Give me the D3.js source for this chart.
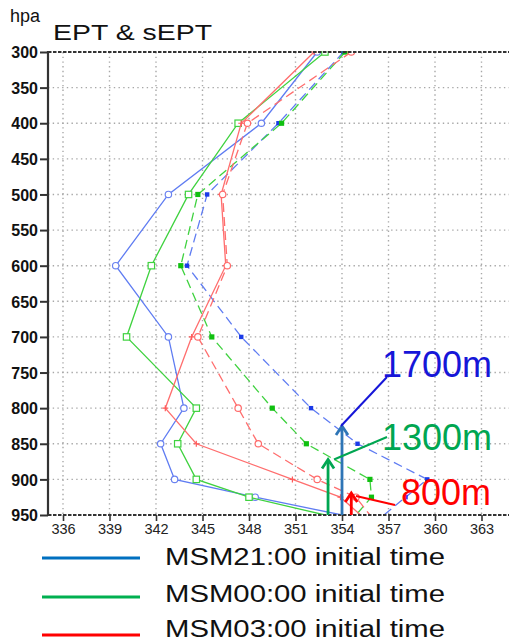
<!DOCTYPE html>
<html><head><meta charset="utf-8">
<script src="https://cdn.jsdelivr.net/npm/d3@7"></script>
<style>html,body{margin:0;padding:0;background:#fff;}svg{display:block;}</style>
</head><body>
<svg id="c" width="509" height="644"></svg>
<script>
// ---- data ----
const levels = [300, 400, 500, 600, 700, 800, 850, 900, 925, 950];
const ept21  = [352.4, 348.8, 342.8, 339.4, 342.8, 343.8, 342.3, 343.2, 348.4, 354.0];
const sept21 = [354.1, 349.9, 345.3, 344.0, 347.5, 352.0, 355.0, 359.5, 358.1, 356.7];
const ept00  = [352.9, 347.3, 344.1, 341.7, 340.1, 344.6, 343.4, 344.6, 348.0, 352.9];
const sept00 = [354.2, 350.1, 344.7, 343.6, 345.6, 349.5, 351.7, 355.8, 355.9, 354.9];
const ept03  = [352.2, 347.5, 346.2, 346.5, 344.3, 342.6, 344.6, 350.8, 353.9, 355.2];
const sept03 = [354.6, 347.9, 346.3, 346.6, 344.7, 347.3, 348.6, 352.4, 354.9, 355.8];
const xTicks = [336, 339, 342, 345, 348, 351, 354, 357, 360, 363];
const yTicks = [300, 350, 400, 450, 500, 550, 600, 650, 700, 750, 800, 850, 900, 950];
const legendLabels = ["MSM21:00 initial time", "MSM00:00 initial time", "MSM03:00 initial time"];
const heightLabels = ["1700m", "1300m", "800m"];
const arrowX   = [354.0, 353.1, 354.6];   // EPT value of arrow
const arrowTop = [825, 872, 919];         // hPa of arrow tip

// ---- layout ----
const svg = d3.select("#c");
const x = d3.scaleLinear().domain([335, 365]).range([47.5, 512.5]);
const y = d3.scaleLinear().domain([300, 950]).range([52, 515]);
const L = 48, R = 509, T = 52, B = 515;

svg.append("defs").append("clipPath").attr("id","pc")
  .append("rect").attr("x",L).attr("y",T-1).attr("width",R-L).attr("height",B-T+1);

// grid
const g = svg.append("g");
g.selectAll(".vg").data(xTicks).join("line")
  .attr("x1",d=>x(d)).attr("x2",d=>x(d)).attr("y1",T).attr("y2",B)
  .attr("stroke","#a8a8a8").attr("stroke-width",1.4).attr("stroke-dasharray","1.4,3.3");
g.selectAll(".hg").data(yTicks.slice(1,-1)).join("line")
  .attr("x1",L).attr("x2",R).attr("y1",d=>y(d)).attr("y2",d=>y(d))
  .attr("stroke","#a8a8a8").attr("stroke-width",1.4).attr("stroke-dasharray","1.4,3.3");

// series
const series = [
  {v: ept21,  c:"#5f7cf2", dash:null, m:"ocircle"},
  {v: sept21, c:"#5f7cf2", dash:"9,5", m:"fblue"},
  {v: ept00,  c:"#3fd23f", dash:null, m:"osquare"},
  {v: sept00, c:"#3fd23f", dash:"9,5", m:"fsquare"},
  {v: ept03,  c:"#ff6e6e", dash:null, m:"plus"},
  {v: sept03, c:"#ff6e6e", dash:"9,5", m:"ocircleR"}
];
const line = d3.line().x(d=>x(d[0])).y(d=>y(d[1]));
const pg = svg.append("g").attr("clip-path","url(#pc)");
series.forEach(s=>{
  const pts = s.v.map((v,i)=>[v, levels[i]]);
  pg.append("path").attr("d", line(pts)).attr("fill","none")
    .attr("stroke", s.c).attr("stroke-width",1.3)
    .attr("stroke-dasharray", s.dash);
  const mp = pts.slice(0, -1);
  mp.forEach(p=>{
    const cx = x(p[0]), cy = y(p[1]);
    if (s.m==="ocircle") pg.append("circle").attr("cx",cx).attr("cy",cy).attr("r",3.2)
        .attr("fill","#fff").attr("stroke","#6a82f0").attr("stroke-width",1.2);
    else if (s.m==="ocircleR") pg.append("circle").attr("cx",cx).attr("cy",cy).attr("r",3.2)
        .attr("fill","#fff").attr("stroke","#ff6a6a").attr("stroke-width",1.2);
    else if (s.m==="fblue") pg.append("rect").attr("x",cx-2.2).attr("y",cy-2.2).attr("width",4.4).attr("height",4.4)
        .attr("fill","#1a3ae8");
    else if (s.m==="osquare") pg.append("rect").attr("x",cx-3.2).attr("y",cy-3.2).attr("width",6.4).attr("height",6.4)
        .attr("fill","#fff").attr("stroke","#3fd23f").attr("stroke-width",1.2);
    else if (s.m==="fsquare") pg.append("rect").attr("x",cx-2.6).attr("y",cy-2.6).attr("width",5.2).attr("height",5.2)
        .attr("fill","#10c010");
    else if (s.m==="plus") {
      pg.append("path").attr("d",`M${cx-3},${cy}H${cx+3}M${cx},${cy-3}V${cy+3}`)
        .attr("stroke","#ff5a5a").attr("stroke-width",1.2);
    }
  });
});

// axes frame
svg.append("line").attr("x1",L).attr("x2",R).attr("y1",T).attr("y2",T)
  .attr("stroke","#333").attr("stroke-width",2.2).attr("stroke-dasharray","3.5,1.5");
svg.append("line").attr("x1",L).attr("x2",R).attr("y1",B).attr("y2",B)
  .attr("stroke","#333").attr("stroke-width",2.2).attr("stroke-dasharray","3.5,1.5");
svg.append("line").attr("x1",L).attr("x2",L).attr("y1",T-1).attr("y2",B+1)
  .attr("stroke","#333").attr("stroke-width",2.2);

// y axis
const ya = svg.append("g").attr("transform",`translate(${L},0)`)
  .call(d3.axisLeft(y).tickValues(yTicks).tickSize(8).tickPadding(2).tickFormat(d3.format("d")));
ya.select(".domain").remove();
ya.selectAll(".tick line").attr("stroke","#333").attr("stroke-width",2);
ya.selectAll(".tick text").attr("font-family","Liberation Sans, Arial, sans-serif")
  .attr("font-size",16).attr("fill","#111").attr("font-weight","bold").attr("dy","0.36em");

// x axis
const xa = svg.append("g").attr("transform",`translate(0,${B})`)
  .call(d3.axisBottom(x).tickValues(xTicks).tickSize(6).tickPadding(3).tickFormat(d3.format("d")));
xa.select(".domain").remove();
xa.selectAll(".tick line").attr("stroke","#333").attr("stroke-width",1.6);
xa.selectAll(".tick text").attr("font-family","Liberation Sans, Arial, sans-serif")
  .attr("font-size",14.5).attr("fill","#222");

// titles
svg.append("text").attr("x",10).attr("y",22).text("hpa")
  .attr("font-family","Liberation Sans, Arial, sans-serif").attr("font-size",18).attr("fill","#111");
svg.append("text").attr("x",53).attr("y",39.5).text("EPT & sEPT")
  .attr("font-family","Liberation Sans, Arial, sans-serif").attr("font-size",22.5).attr("fill","#111")
  .attr("textLength",159).attr("lengthAdjust","spacingAndGlyphs");

// annotations
const arrowCol = ["#2e75b6", "#00a651", "#ff0000"];
const textCol  = ["#1616d8", "#00a651", "#ff0000"];
const callout  = [[[341,426],[387,377]], [[334,459.5],[387,437]], [[356,496],[395,505]]];
const textPos  = [[382,377], [382,450], [401,505]];
const ag = svg.append("g");
heightLabels.forEach((lab,i)=>{
  const ax = x(arrowX[i]), at = y(arrowTop[i]);
  ag.append("line").attr("x1",ax).attr("x2",ax).attr("y1",B).attr("y2",at+1)
    .attr("stroke",arrowCol[i]).attr("stroke-width",2.8);
  ag.append("path").attr("d",`M${ax-6},${at+9}L${ax},${at}L${ax+6},${at+9}`)
    .attr("fill","none").attr("stroke",arrowCol[i]).attr("stroke-width",2.8)
    .attr("stroke-linejoin","miter");
  ag.append("line").attr("x1",callout[i][0][0]).attr("y1",callout[i][0][1])
    .attr("x2",callout[i][1][0]).attr("y2",callout[i][1][1])
    .attr("stroke",textCol[i]).attr("stroke-width",2);
  ag.append("text").attr("x",textPos[i][0]).attr("y",textPos[i][1]).text(lab)
    .attr("font-family","Liberation Sans, Arial, sans-serif").attr("font-size",36)
    .attr("fill",textCol[i]);
});

// legend
const legCol = ["#0070c0", "#00b050", "#ff0000"];
const legY = [558, 597, 635];
const legTextY = [565, 602, 636.5];
legendLabels.forEach((lab,i)=>{
  svg.append("line").attr("x1",42).attr("x2",140).attr("y1",legY[i]).attr("y2",legY[i])
    .attr("stroke",legCol[i]).attr("stroke-width",3);
  svg.append("text").attr("x",165).attr("y",legTextY[i]).text(lab)
    .attr("font-family","Liberation Sans, Arial, sans-serif").attr("font-size",23.5).attr("fill","#111")
    .attr("textLength",280).attr("lengthAdjust","spacingAndGlyphs");
});
</script>
</body></html>
